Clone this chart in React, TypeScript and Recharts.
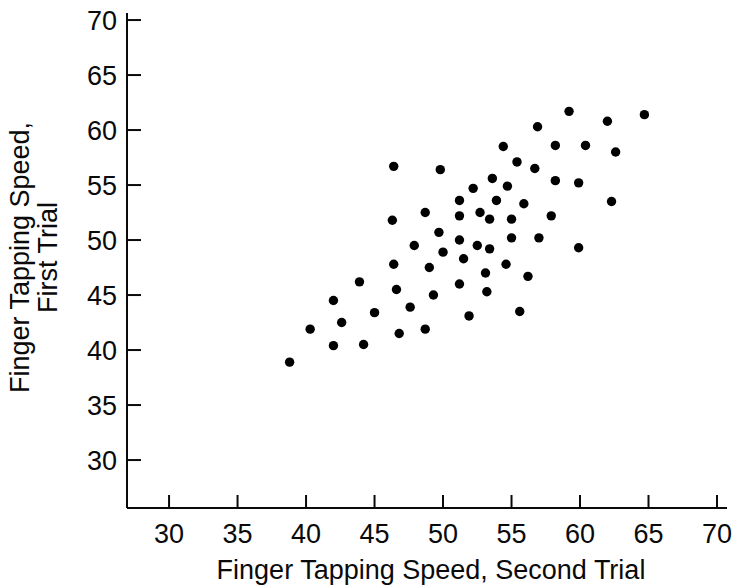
import React from "react";
import { ScatterChart, Scatter, XAxis, YAxis } from "recharts";

// Finger tapping speed, second trial (x) and first trial (y)
const secondTrial = [
  46.4, 46.3, 56.9, 54.4, 55.4, 56.7, 49.8, 53.6, 54.7, 52.2,
  51.2, 53.9, 55.9, 48.7, 52.7, 51.2, 53.4, 55.0, 49.7, 51.2,
  55.0, 57.0, 59.2, 64.7, 62.0, 58.2, 60.4, 62.6, 58.2, 59.9,
  62.3, 57.9, 46.4, 43.9, 46.6, 42.0, 45.0, 47.6, 42.6, 40.3,
  46.8, 42.0, 44.2, 38.8, 47.9, 52.5, 53.4, 50.0, 51.5, 49.0,
  54.6, 53.1, 56.2, 51.2, 49.3, 53.2, 51.9, 55.6, 48.7, 59.9,
];
const firstTrial = [
  56.7, 51.8, 60.3, 58.5, 57.1, 56.5, 56.4, 55.6, 54.9, 54.7,
  53.6, 53.6, 53.3, 52.5, 52.5, 52.2, 51.9, 51.9, 50.7, 50.0,
  50.2, 50.2, 61.7, 61.4, 60.8, 58.6, 58.6, 58.0, 55.4, 55.2,
  53.5, 52.2, 47.8, 46.2, 45.5, 44.5, 43.4, 43.9, 42.5, 41.9,
  41.5, 40.4, 40.5, 38.9, 49.5, 49.5, 49.2, 48.9, 48.3, 47.5,
  47.8, 47.0, 46.7, 46.0, 45.0, 45.3, 43.1, 43.5, 41.9, 49.3,
];
const xTicks = [30, 35, 40, 45, 50, 55, 60, 65, 70];
const yTicks = [30, 35, 40, 45, 50, 55, 60, 65, 70];
const xLabel = "Finger Tapping Speed, Second Trial";
const yLabelLines = ["Finger Tapping Speed,", "First Trial"];

const data = secondTrial.map((x, i) => ({ x, y: firstTrial[i] }));

const FONT = "'Liberation Sans', Arial, Helvetica, sans-serif";
const INK = "#0a0a0a";
const FS = 27;

const XTick = (props: any) => {
  const { x, y, payload } = props;
  const axisY = y - 10;
  return (
    <g>
      <line x1={x} x2={x} y1={axisY} y2={axisY - 13} stroke={INK} strokeWidth={2} />
      <text x={x} y={axisY + 35} textAnchor="middle" fontSize={FS} fontFamily={FONT} fill={INK}>
        {payload.value}
      </text>
    </g>
  );
};

const YTick = (props: any) => {
  const { x, y, payload } = props;
  const axisX = x + 10;
  return (
    <g>
      <line x1={axisX} x2={axisX + 14} y1={y} y2={y} stroke={INK} strokeWidth={2} />
      <text x={x} y={y} dy="0.36em" textAnchor="end" fontSize={FS} fontFamily={FONT} fill={INK}>
        {payload.value}
      </text>
    </g>
  );
};

const XLabel = (props: any) => {
  const { viewBox } = props;
  const cx = viewBox.x + viewBox.width / 2 + 4;
  return (
    <text x={cx} y={viewBox.y + 71} textAnchor="middle" fontSize={FS} fontFamily={FONT} fill={INK}>
      {xLabel}
    </text>
  );
};

const YLabel = (props: any) => {
  const { viewBox } = props;
  const cy = viewBox.y + viewBox.height / 2 - 3;
  return (
    <g>
      {yLabelLines.map((line, i) => {
        const lx = 29 + i * 28;
        return (
          <text
            key={i}
            x={lx}
            y={cy}
            transform={`rotate(-90, ${lx}, ${cy})`}
            textAnchor="middle"
            fontSize={FS}
            fontFamily={FONT}
            fill={INK}
          >
            {line}
          </text>
        );
      })}
    </g>
  );
};

const Dot = (props: any) => <circle cx={props.cx} cy={props.cy} r={4.7} fill="#000" />;

export default function App() {
  return (
    <div style={{ position: "absolute", left: 0, top: 0, background: "#fff" }}>
      <ScatterChart width={733} height={586} margin={{ top: 13, right: 6, bottom: 0, left: 0 }}>
        <XAxis
          type="number"
          dataKey="x"
          domain={[26.93, 70.73]}
          ticks={xTicks}
          allowDataOverflow
          height={78}
          tickSize={0}
          tickMargin={10}
          tickLine={false}
          tick={<XTick />}
          axisLine={{ stroke: INK, strokeWidth: 2 }}
          label={<XLabel />}
          interval={0}
        />
        <YAxis
          type="number"
          dataKey="y"
          domain={[25.64, 70.64]}
          ticks={yTicks}
          allowDataOverflow
          width={127}
          tickSize={0}
          tickMargin={10}
          tickLine={false}
          tick={<YTick />}
          axisLine={{ stroke: INK, strokeWidth: 2 }}
          label={<YLabel />}
          interval={0}
        />
        <Scatter data={data} fill="#000" shape={<Dot />} isAnimationActive={false} />
      </ScatterChart>
    </div>
  );
}
